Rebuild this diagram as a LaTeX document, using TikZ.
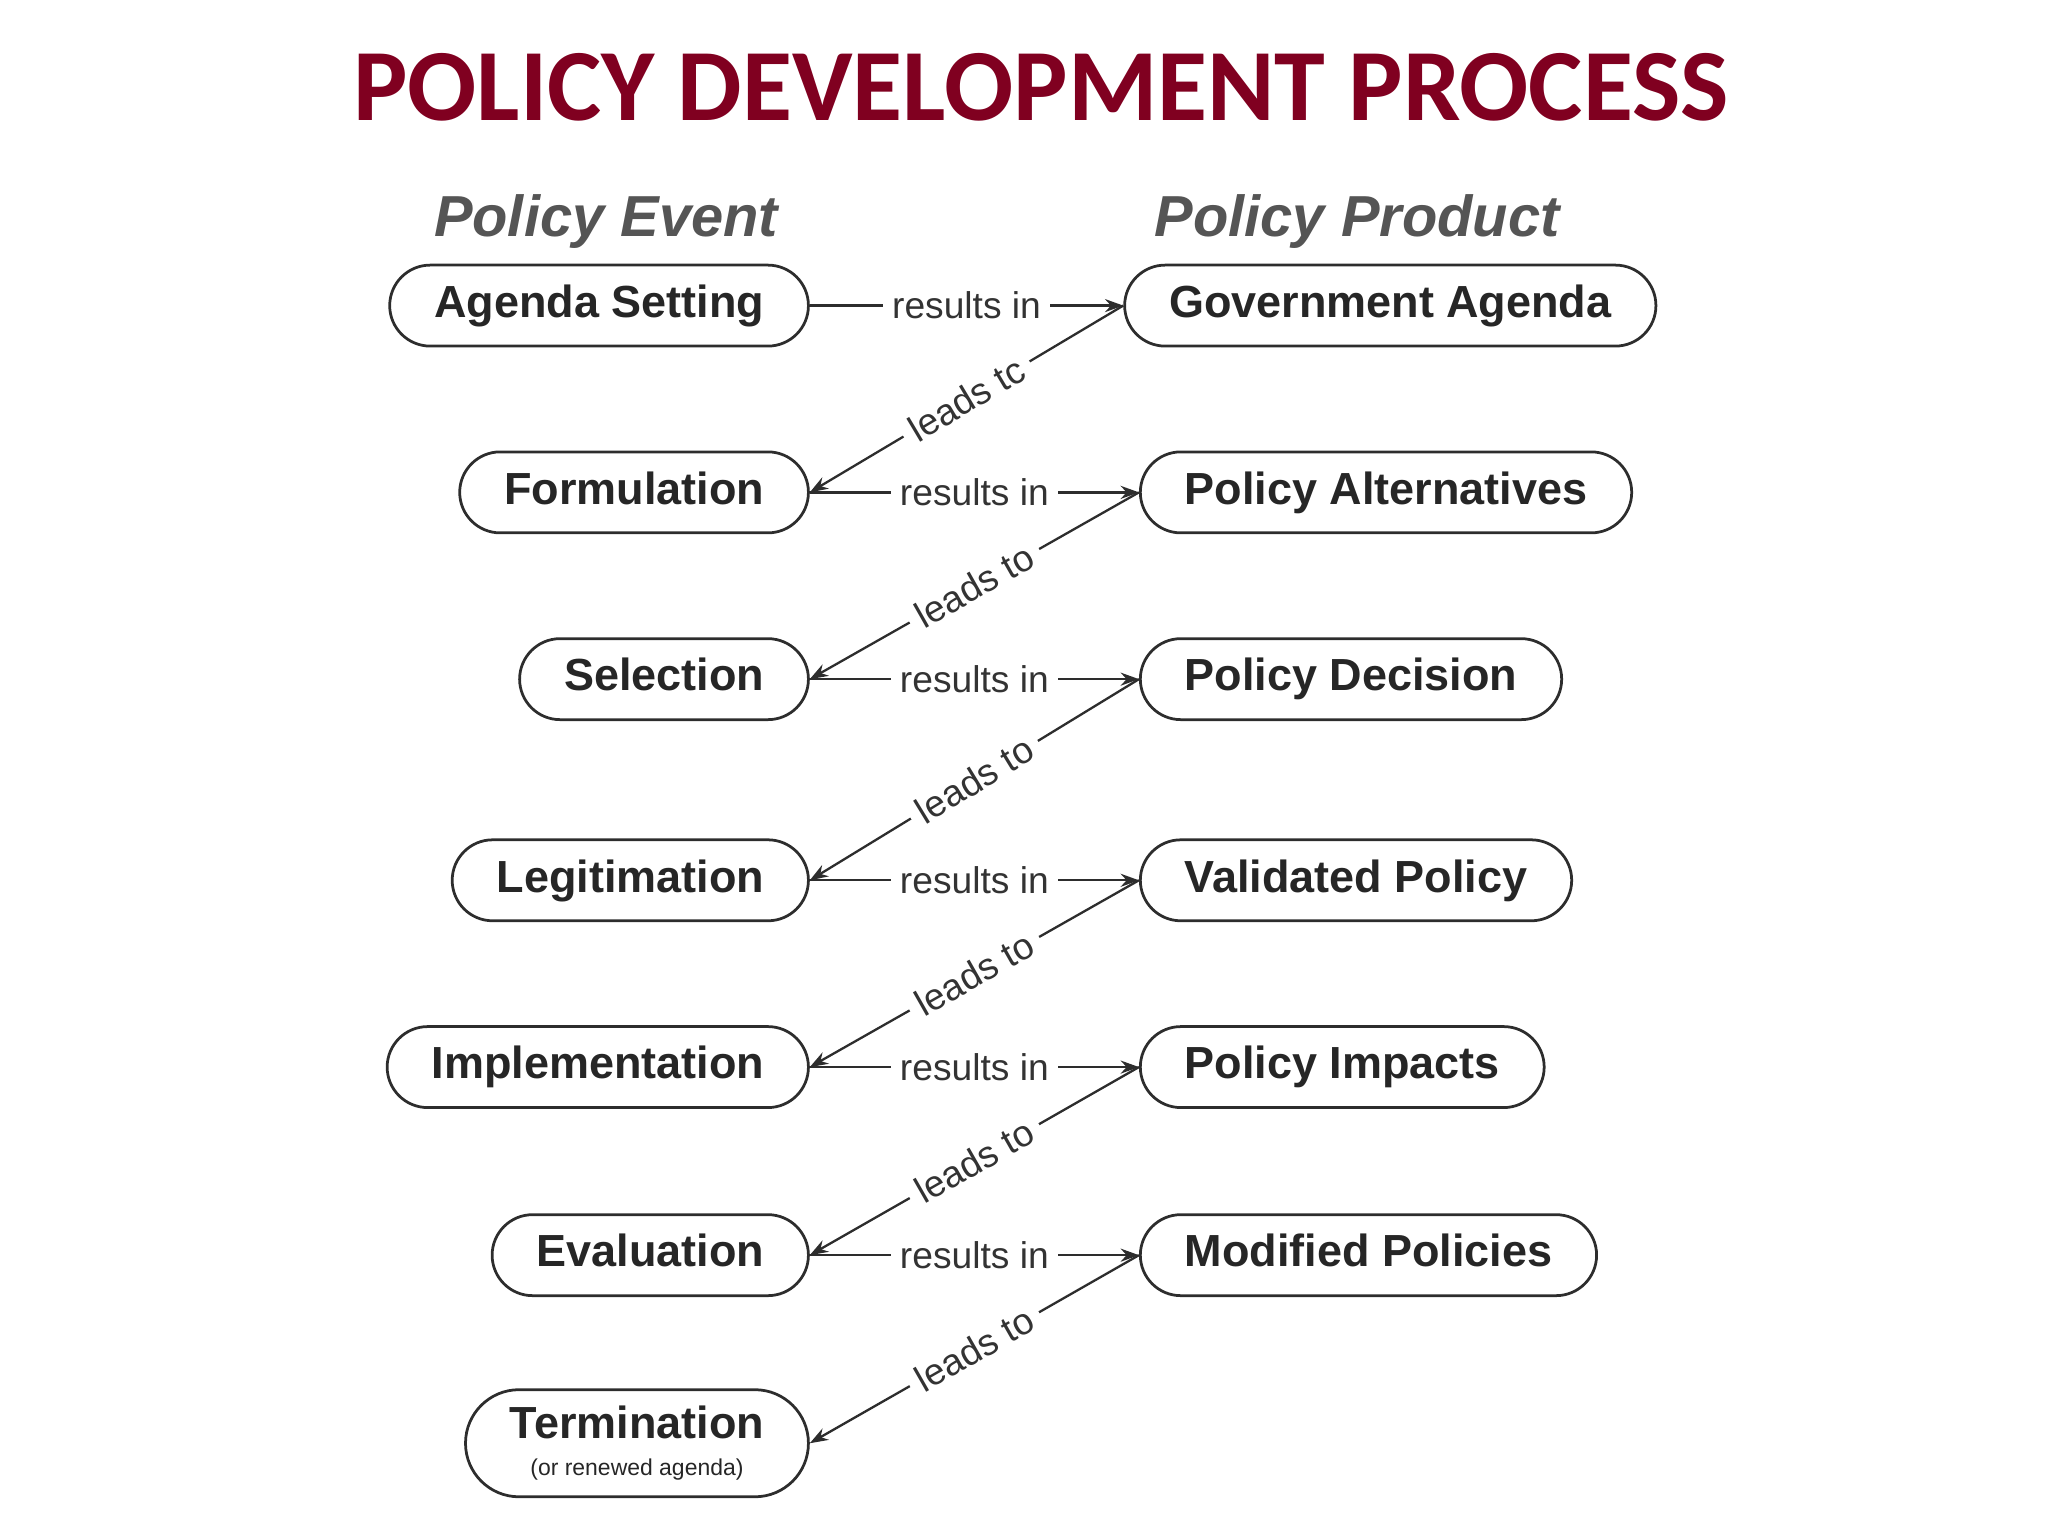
\documentclass[tikz,border=0pt]{standalone}
\usepackage{fontspec}
\setmainfont{Liberation Sans}
\newfontfamily\titlefont{Carlito}
\usetikzlibrary{arrows.meta}
\definecolor{titlered}{RGB}{128,0,32}
\definecolor{headgray}{RGB}{85,85,85}
\definecolor{linegray}{RGB}{45,45,45}

\begin{document}
\begin{tikzpicture}[
    stage/.style={draw=linegray, line width=0.6pt, rounded corners=0.31cm, minimum height=0.62cm,
        inner xsep=0.34cm, text height=0.72em, text depth=0.21em, text=black!85,
        font=\bfseries\fontsize{9.8}{12}\selectfont},
    link/.style={draw=linegray, line width=0.5pt, -{Stealth[length=1.4mm,width=1mm]}},
    linklabel/.style={fill=white, inner sep=2pt, text=black!80, font=\fontsize{8.1}{10}\selectfont},
    colhead/.style={headgray, anchor=base, font=\bfseries\itshape\fontsize{12.6}{15}\selectfont}
]
    \useasboundingbox (0,0) rectangle (15.68,11.76);
    % Title
    \node[titlered, anchor=base, font=\titlefont\bfseries\fontsize{22.3}{26}\selectfont] (title) at (7.97,10.84) {POLICY DEVELOPMENT PROCESS};
    % Column heads
    \node[colhead] (eventhead) at (4.64,9.95) {Policy Event};
    \node[colhead] (producthead) at (10.39,9.95) {Policy Product};
    % Policy events (left column)
    \node[stage, anchor=east] (agenda) at (6.20,9.42) {Agenda Setting};
    \node[stage, anchor=east] (formulation) at (6.20,7.99) {Formulation};
    \node[stage, anchor=east] (selection) at (6.20,6.56) {Selection};
    \node[stage, anchor=east] (legitimation) at (6.20,5.02) {Legitimation};
    \node[stage, anchor=east] (implementation) at (6.20,3.59) {Implementation};
    \node[stage, anchor=east] (evaluation) at (6.20,2.15) {Evaluation};
    \node[stage, anchor=east, minimum height=0.82cm, rounded corners=0.41cm, text height={}, text depth={},
        align=center] (termination) at (6.20,0.71)
        {Termination\\[-4pt]{\mdseries\fontsize{5}{6}\selectfont (or renewed agenda)}};
    % Policy products (right column)
    \node[stage, anchor=west] (govagenda) at (8.60,9.42) {Government Agenda};
    \node[stage, anchor=west] (alternatives) at (8.72,7.99) {Policy Alternatives};
    \node[stage, anchor=west] (decision) at (8.72,6.56) {Policy Decision};
    \node[stage, anchor=west] (validated) at (8.72,5.02) {Validated Policy};
    \node[stage, anchor=west] (impacts) at (8.72,3.59) {Policy Impacts};
    \node[stage, anchor=west] (modified) at (8.72,2.15) {Modified Policies};
    % results in
    \draw[link] (agenda.east) -- node[linklabel] {results in} (govagenda.west);
    \draw[link] (formulation.east) -- node[linklabel] {results in} (alternatives.west);
    \draw[link] (selection.east) -- node[linklabel] {results in} (decision.west);
    \draw[link] (legitimation.east) -- node[linklabel] {results in} (validated.west);
    \draw[link] (implementation.east) -- node[linklabel] {results in} (impacts.west);
    \draw[link] (evaluation.east) -- node[linklabel] {results in} (modified.west);
    % leads to
    \draw[link] (govagenda.west) -- node[linklabel, sloped] {leads tc} (formulation.east);
    \draw[link] (alternatives.west) -- node[linklabel, sloped] {leads to} (selection.east);
    \draw[link] (decision.west) -- node[linklabel, sloped] {leads to} (legitimation.east);
    \draw[link] (validated.west) -- node[linklabel, sloped] {leads to} (implementation.east);
    \draw[link] (impacts.west) -- node[linklabel, sloped] {leads to} (evaluation.east);
    \draw[link] (modified.west) -- node[linklabel, sloped] {leads to} (termination.east);
\end{tikzpicture}
\end{document}
